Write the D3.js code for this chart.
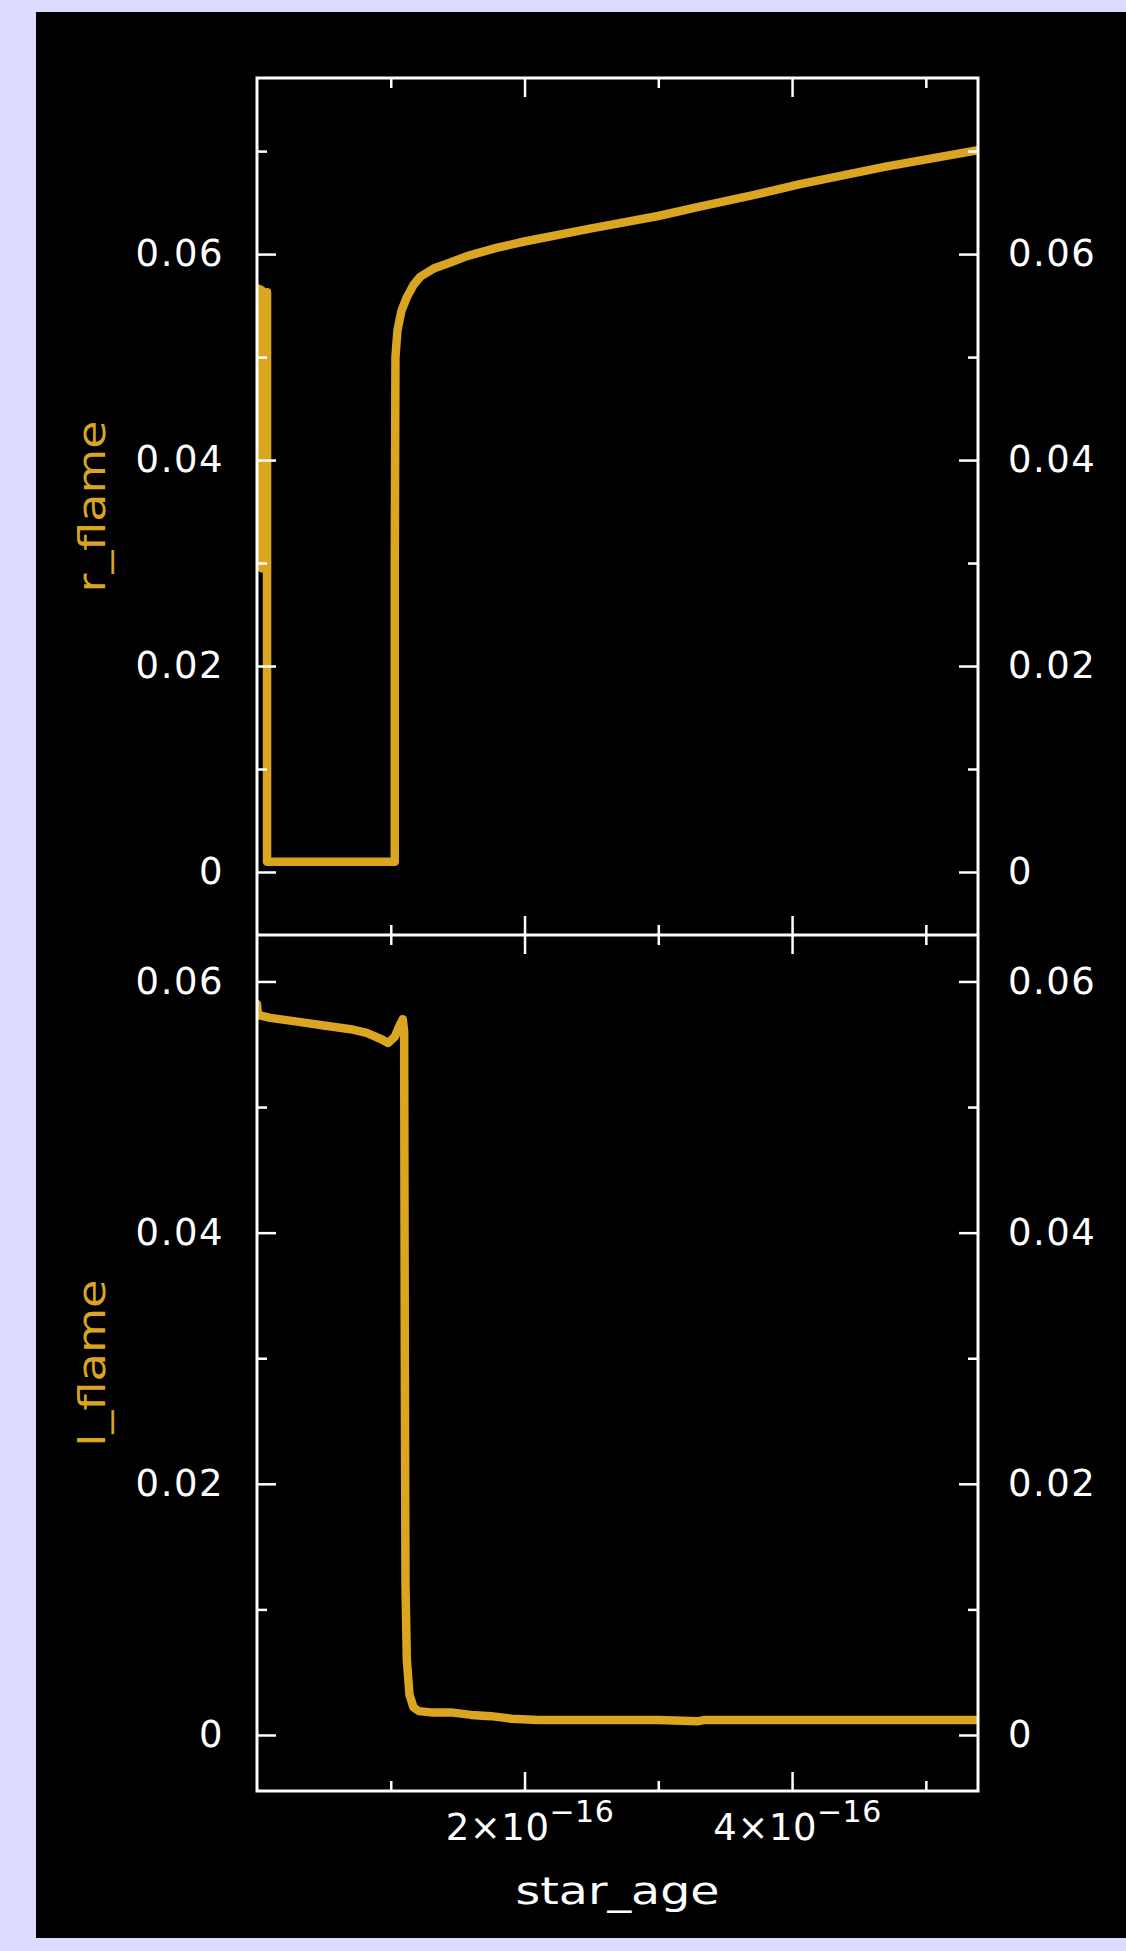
<!DOCTYPE html>
<html>
<head>
<meta charset="utf-8">
<script src="https://cdn.jsdelivr.net/npm/d3@7"></script>
<style>
  html, body { margin: 0; padding: 0; background: #dcdcff; }
  svg { display: block; }
</style>
</head>
<body>
<script>
// ---- data (star_age in units of 1e-16) ----
const AGE_UNIT = 1e-16;
const ageR = [0.00,0.035,0.035,0.055,0.075,0.075,0.30,0.60,
              0.90,1.03,1.03,1.035,1.05,1.08,1.12,1.17,1.22,1.32,
              1.45,1.57,1.79,1.99,2.5,3.0,3.31,3.7,4.06,4.7,5.39];
const rFlame = [0.0567,0.0565,0.0295,0.0450,0.0563,0.0010,0.0010,0.0010,
                0.0010,0.0010,0.0300,0.0500,0.0526,0.0545,0.0558,0.0570,0.0578,0.0586,
                0.0592,0.0598,0.0606,0.0612,0.0625,0.0637,0.0646,0.0657,0.0668,0.0685,0.0701];
const ageL = [0.00,0.005,0.02,0.10,0.30,0.50,0.70,0.82,0.93,0.98,
              1.03,1.07,1.09,1.10,1.105,1.11,1.12,1.14,1.17,1.21,
              1.30,1.45,1.60,1.75,1.90,2.10,2.50,3.00,3.30,3.35,
              3.40,3.80,4.20,4.60,5.00,5.39];
const lFlame = [0.0582,0.0576,0.0573,0.0571,0.0568,0.0565,0.0562,0.0559,0.0554,0.0551,
                0.0556,0.0566,0.0570,0.0560,0.0300,0.0120,0.0060,0.0032,0.0022,0.0019,
                0.0018,0.0018,0.0016,0.0015,0.0013,0.0012,0.0012,0.0012,0.0011,0.0012,
                0.0012,0.0012,0.0012,0.0012,0.0012,0.0012];

const ageMajor = [2e-16, 4e-16];
const ageMinor = [1e-16, 3e-16, 5e-16];
const rMajor = [0, 0.02, 0.04, 0.06];
const rMinor = [0.01, 0.03, 0.05, 0.07];
const lMajor = [0, 0.02, 0.04, 0.06];
const lMinor = [0.01, 0.03, 0.05];
const ageLabels = ["2", "4"];
const ageExp = "\u221216";
const xTitle = "star_age";
const rTitle = "r_flame";
const lTitle = "l_flame";

// ---- layout ----
const W = 1126, H = 1951;
const LINE = "#daa520", FG = "#ffffff";
const FONT = "'DejaVu Sans', sans-serif";
const left = 257, right = 978, topU = 78, mid = 935, bottomL = 1791;

const svg = d3.select("body").append("svg").attr("width", W).attr("height", H);
svg.append("rect").attr("x", 0).attr("y", 0).attr("width", W).attr("height", H).attr("fill", "#dcdcff");
svg.append("rect").attr("x", 36).attr("y", 12).attr("width", W - 36).attr("height", 1926).attr("fill", "#000");

const x = d3.scaleLinear().domain([0, 5.39e-16]).range([left, right]);
const yU = d3.scaleLinear().domain([-0.00612, 0.0771]).range([mid, topU]);
const yL = d3.scaleLinear().domain([-0.00446, 0.0637]).range([bottomL, mid]);

const defs = svg.append("defs");
defs.append("clipPath").attr("id", "clipU").append("rect")
  .attr("x", left).attr("y", topU).attr("width", right - left).attr("height", mid - topU);
defs.append("clipPath").attr("id", "clipL").append("rect")
  .attr("x", left).attr("y", mid).attr("width", right - left).attr("height", bottomL - mid);

// curves
const lineU = d3.line().x((d, i) => x(ageR[i] * AGE_UNIT)).y(d => yU(d));
const lineL = d3.line().x((d, i) => x(ageL[i] * AGE_UNIT)).y(d => yL(d));
svg.append("path").attr("clip-path", "url(#clipU)").attr("d", lineU(rFlame))
  .attr("fill", "none").attr("stroke", LINE).attr("stroke-width", 8.5)
  .attr("stroke-linejoin", "round").attr("stroke-linecap", "round");
svg.append("path").attr("clip-path", "url(#clipL)").attr("d", lineL(lFlame))
  .attr("fill", "none").attr("stroke", LINE).attr("stroke-width", 8.5)
  .attr("stroke-linejoin", "round").attr("stroke-linecap", "round");

const yFmt = d => d === 0 ? "0" : d3.format(".2f")(d);

function styleAxis(g) {
  g.select(".domain").remove();
  g.selectAll(".tick line").attr("stroke", FG).attr("stroke-width", 2.5);
  g.selectAll(".tick text").attr("fill", FG).attr("font-family", FONT).attr("font-size", 37)
    .attr("letter-spacing", 1.5);
  g.attr("font-family", FONT);
}

function yAxes(scale, major, minor) {
  svg.append("g").attr("transform", `translate(${left},0)`)
    .call(d3.axisLeft(scale).tickValues(major).tickSizeInner(-19).tickSizeOuter(0).tickPadding(33).tickFormat(yFmt))
    .call(styleAxis);
  svg.append("g").attr("transform", `translate(${left},0)`)
    .call(d3.axisLeft(scale).tickValues(minor).tickSizeInner(-10).tickSizeOuter(0).tickFormat(""))
    .call(styleAxis);
  svg.append("g").attr("transform", `translate(${right},0)`)
    .call(d3.axisRight(scale).tickValues(major).tickSizeInner(-19).tickSizeOuter(0).tickPadding(30).tickFormat(yFmt))
    .call(styleAxis);
  svg.append("g").attr("transform", `translate(${right},0)`)
    .call(d3.axisRight(scale).tickValues(minor).tickSizeInner(-10).tickSizeOuter(0).tickFormat(""))
    .call(styleAxis);
}
yAxes(yU, rMajor, rMinor);
yAxes(yL, lMajor, lMinor);

function xTicks(axisFn, yPos) {
  svg.append("g").attr("transform", `translate(0,${yPos})`)
    .call(axisFn(x).tickValues(ageMajor).tickSizeInner(-19).tickSizeOuter(0).tickFormat(""))
    .call(styleAxis);
  svg.append("g").attr("transform", `translate(0,${yPos})`)
    .call(axisFn(x).tickValues(ageMinor).tickSizeInner(-10).tickSizeOuter(0).tickFormat(""))
    .call(styleAxis);
}
xTicks(d3.axisTop, topU);
xTicks(d3.axisBottom, mid);
xTicks(d3.axisTop, mid);

// bottom axis with labels
const gB = svg.append("g").attr("transform", `translate(0,${bottomL})`)
  .call(d3.axisBottom(x).tickValues(ageMajor).tickSizeInner(-19).tickSizeOuter(0).tickPadding(22).tickFormat((d, i) => ageLabels[i]))
  .call(styleAxis);
gB.selectAll(".tick text").each(function(d, i) {
  const t = d3.select(this);
  t.text(null).attr("dy", null).attr("y", 49).attr("x", 5).attr("letter-spacing", 0.5);
  t.append("tspan").text(ageLabels[i] + "\u00d710");
  t.append("tspan").attr("dy", -18).attr("font-size", 30).text(ageExp);
});
svg.append("g").attr("transform", `translate(0,${bottomL})`)
  .call(d3.axisBottom(x).tickValues(ageMinor).tickSizeInner(-10).tickSizeOuter(0).tickFormat(""))
  .call(styleAxis);

// frames
svg.append("rect").attr("x", left).attr("y", topU).attr("width", right - left).attr("height", bottomL - topU)
  .attr("fill", "none").attr("stroke", FG).attr("stroke-width", 3);
svg.append("line").attr("x1", left).attr("x2", right).attr("y1", mid).attr("y2", mid)
  .attr("stroke", FG).attr("stroke-width", 3);

// titles
svg.append("text").attr("x", (left + right) / 2).attr("y", 1904)
  .attr("text-anchor", "middle").attr("fill", FG).attr("font-family", FONT).attr("font-size", 38)
  .attr("textLength", 204).attr("lengthAdjust", "spacingAndGlyphs").text(xTitle);
svg.append("text").attr("transform", `translate(105,${(topU + mid) / 2}) rotate(-90)`)
  .attr("text-anchor", "middle").attr("fill", LINE).attr("font-family", FONT).attr("font-size", 38)
  .attr("textLength", 172).attr("lengthAdjust", "spacingAndGlyphs").text(rTitle);
svg.append("text").attr("transform", `translate(105,${(mid + bottomL) / 2}) rotate(-90)`)
  .attr("text-anchor", "middle").attr("fill", LINE).attr("font-family", FONT).attr("font-size", 38)
  .attr("textLength", 167).attr("lengthAdjust", "spacingAndGlyphs").text(lTitle);
</script>
</body>
</html>
